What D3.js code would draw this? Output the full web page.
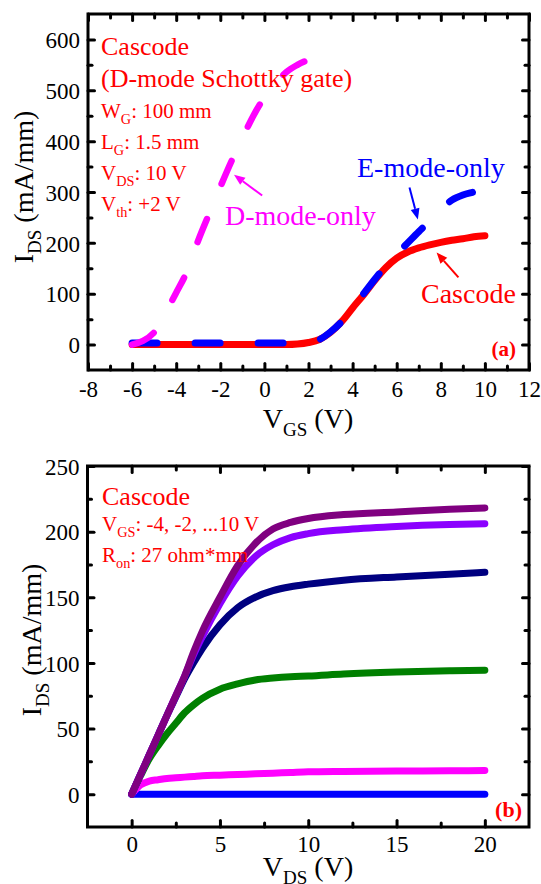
<!DOCTYPE html>
<html>
<head>
<meta charset="utf-8">
<script src="https://cdn.jsdelivr.net/npm/d3@7"></script>
<style>
  body { margin: 0; background: #fff; }
  svg { display: block; }
  svg text { font-family: Liberation Serif; }
</style>
</head>
<body>
<svg width="541" height="884"></svg>
<script>
// panel (a): transfer curves, VDS = 10 V
const vgsCascode = [-6, -4, -2, 0, 1, 1.5, 2, 2.5, 3, 3.5, 4, 4.5, 5, 5.5, 6, 6.5, 7, 7.5, 8, 8.5, 9, 9.5, 10];
const idsCascode = [0, 0, 0, 0, 0, 1, 4, 10, 24, 45, 72, 98, 126, 151, 170, 182, 190, 196, 201, 205, 208, 212, 214];
const vgsEmode = [-6, -4, -2, 0, 1, 2, 2.5, 3, 3.5, 4, 4.5, 5, 5.5, 6, 6.5, 7, 7.5, 8, 8.5, 9, 9.5, 10];
const idsEmode = [3, 3, 3, 3, 3, 4, 10, 25, 45, 72, 100, 128, 155, 178, 200, 222, 243, 266, 284, 294, 300, 306];
const vgsDmode = [-6, -5, -4.5, -4, -3.5, -3, -2.5, -2, -1.5, -1, -0.5, 0, 0.5, 1, 1.5, 2];
const idsDmode = [0, 24, 62, 102, 145, 205, 258, 310, 360, 406, 450, 486, 513, 536, 550, 560];

// panel (b): output curves, VGS = -4 ... 10 V
const vdsOut = [0, 0.5, 1, 1.5, 2, 2.5, 3, 3.5, 4, 5, 6, 7, 8, 9, 10, 12, 15, 18, 20];
const idsVgsLow = [0, 0, 0, 0, 0, 0, 0, 0, 0, 0, 0, 0, 0, 0, 0, 0, 0, 0, 0];
const idsVgs2 = [0, 7, 10, 11, 12, 12.5, 13, 13.5, 14, 14.5, 15, 15.5, 16, 16.5, 17, 17.3, 17.6, 17.8, 18];
const idsVgs4 = [0, 14, 27, 37, 46, 54, 62, 68, 73, 80, 84, 87, 88.5, 89.5, 90, 91.5, 93, 94, 94.5];
const idsVgs6 = [0, 15, 30, 45, 60, 74, 88, 100, 111, 129, 142, 150, 155, 158, 160, 163, 165.5, 167.5, 169];
const idsVgs8 = [0, 15, 30, 45, 60, 75, 90, 106, 120, 145, 166, 181, 190, 195.5, 198.5, 201.5, 204, 205.5, 206];
const idsVgs10 = [0, 15, 30, 45, 60, 75, 90, 108, 124, 150, 174, 191, 202, 207, 210, 213, 215, 217, 218];

const FONT = "Liberation Serif";
const svg = d3.select("svg").attr("font-family", FONT);

function pts(xs, ys) { return xs.map((v, i) => [v, ys[i]]); }

// parts: plain strings or {sub: "..."} for subscripts
function addText(g, x, y, parts, size, color, opts = {}) {
  const t = g.append("text")
    .style("font-family", FONT)
    .attr("font-size", size).attr("fill", color)
    .attr("font-weight", opts.bold ? "bold" : null)
    .attr("text-anchor", opts.anchor || "start");
  if (opts.rotate) t.attr("transform", `translate(${x},${y}) rotate(-90)`);
  else t.attr("x", x).attr("y", y);
  const shift = size * 0.28;
  let pending = 0;
  parts.forEach(p => {
    const sp = t.append("tspan");
    if (typeof p === "string") {
      sp.text(p);
      if (pending) sp.attr("dy", pending);
      pending = 0;
    } else {
      sp.attr("dy", shift + pending).attr("font-size", size * 0.68).text(p.sub);
      pending = -shift;
    }
  });
  return t;
}

function frameAxes(g, x, y, xMajor, xMinor, yMajor, yMinor, labelOff) {
  const [x0, x1] = x.range(), [y0, y1] = y.range();
  const fmt = d => String(d);
  const sides = [
    { ax: d3.axisBottom, s: x, at: `translate(0,${y0})`, attr: ["y1", "y2"], dir: -1, lab: true },
    { ax: d3.axisTop, s: x, at: `translate(0,${y1})`, attr: ["y1", "y2"], dir: 1 },
    { ax: d3.axisLeft, s: y, at: `translate(${x0},0)`, attr: ["x1", "x2"], dir: 1, lab: true },
    { ax: d3.axisRight, s: y, at: `translate(${x1},0)`, attr: ["x1", "x2"], dir: -1 }
  ];
  sides.forEach((sd, k) => {
    const isX = k < 2;
    [[isX ? xMajor : yMajor, 6.5], [isX ? xMinor : yMinor, 4]].forEach(([vals, len], m) => {
      const showLab = sd.lab && m === 0;
      const a = g.append("g").attr("transform", sd.at)
        .call(sd.ax(sd.s).tickValues(vals).tickSize(0).tickFormat(fmt));
      a.select(".domain").remove();
      a.selectAll(".tick line").attr(sd.attr[0], 0).attr(sd.attr[1], sd.dir * len)
        .attr("stroke", "#000").attr("stroke-width", 3).attr("stroke-linecap", "round");
      a.attr("font-family", FONT).attr("font-size", 23);
      a.selectAll(".tick text").style("font-family", FONT);
      if (!showLab) a.selectAll(".tick text").remove();
      else if (isX) a.selectAll(".tick text").attr("y", labelOff).attr("dy", null).attr("fill", "#000");
      else a.selectAll(".tick text").attr("x", -8).attr("dy", "0.36em").attr("fill", "#000");
    });
  });
  g.append("rect").attr("x", x0).attr("y", y1).attr("width", x1 - x0).attr("height", y0 - y1)
    .attr("fill", "none").attr("stroke", "#000").attr("stroke-width", 3);
}

function arrow(g, x, y, from, to, color) {
  const [ax, ay] = [x(from[0]), y(from[1])], [bx, by] = [x(to[0]), y(to[1])];
  const ang = Math.atan2(by - ay, bx - ax), L = 11, W = 4.5;
  const bx2 = bx - L * Math.cos(ang), by2 = by - L * Math.sin(ang);
  g.append("line").attr("x1", ax).attr("y1", ay).attr("x2", bx2).attr("y2", by2)
    .attr("stroke", color).attr("stroke-width", 2);
  const px = -Math.sin(ang) * W, py = Math.cos(ang) * W;
  g.append("path").attr("fill", color)
    .attr("d", `M${bx},${by}L${bx2 + px},${by2 + py}L${bx2 - px},${by2 - py}Z`);
}

// ---------- panel (a)
const xA = d3.scaleLinear().domain([-8, 12]).range([88, 529]);
const yA = d3.scaleLinear().domain([-50, 650]).range([370, 14]);
const gA = svg.append("g");
const lineA = d3.line().x(d => xA(d[0])).y(d => yA(d[1])).curve(d3.curveMonotoneX);

gA.append("path").attr("d", lineA(pts(vgsCascode, idsCascode)))
  .attr("fill", "none").attr("stroke", "#ff0000").attr("stroke-width", 7).attr("stroke-linecap", "round");
gA.append("path").attr("d", lineA(pts(vgsEmode, idsEmode)))
  .attr("fill", "none").attr("stroke", "#0000ff").attr("stroke-width", 7)
  .attr("stroke-linecap", "round").attr("stroke-dasharray", "25,38");
gA.append("path").attr("d", lineA(pts(vgsDmode, idsDmode)))
  .attr("fill", "none").attr("stroke", "#ff00ff").attr("stroke-width", 6.5)
  .attr("stroke-linecap", "round").attr("stroke-dasharray", "25,38");

frameAxes(gA, xA, yA, d3.range(-8, 13, 2), d3.range(-7, 12, 2),
  d3.range(0, 601, 100), d3.range(50, 650, 100), 27);

addText(gA, 101, 55, ["Cascode"], 26, "#ff0000");
addText(gA, 101, 87, ["(D-mode Schottky gate)"], 26, "#ff0000");
addText(gA, 101, 118, ["W", { sub: "G" }, ": 100 mm"], 21, "#ff0000");
addText(gA, 101, 149, ["L", { sub: "G" }, ": 1.5 mm"], 21, "#ff0000");
addText(gA, 101, 180, ["V", { sub: "DS" }, ": 10 V"], 21, "#ff0000");
addText(gA, 101, 211, ["V", { sub: "th" }, ": +2 V"], 21, "#ff0000");
addText(gA, 225, 225, ["D-mode-only"], 28, "#ff00ff");
addText(gA, 357, 177, ["E-mode-only"], 28, "#0000ff");
addText(gA, 421, 303, ["Cascode"], 28, "#ff0000");
addText(gA, 516, 356, ["(a)"], 21, "#ff0000", { bold: true, anchor: "end" });

arrow(gA, xA, yA, [-0.1, 293], [-1.38, 334], "#ff00ff");
arrow(gA, xA, yA, [6.58, 309], [6.96, 246], "#0000ff");
arrow(gA, xA, yA, [8.8, 132], [7.81, 181], "#ff0000");

addText(gA, 308, 428, ["V", { sub: "GS" }, " (V)"], 28, "#000", { anchor: "middle" });
addText(gA, 33, 187, ["I", { sub: "DS" }, " (mA/mm)"], 28, "#000", { anchor: "middle", rotate: true });

// ---------- panel (b)
const xB = d3.scaleLinear().domain([-2.5, 22.5]).range([87.5, 529]);
const yB = d3.scaleLinear().domain([-25, 250]).range([827, 466]);
const gB = svg.append("g");
const lineB = d3.line().x(d => xB(d[0])).y(d => yB(d[1])).curve(d3.curveMonotoneX);

const outCurves = [
  [idsVgsLow, "#0000ff"], [idsVgs2, "#ff00ff"], [idsVgs4, "#008000"],
  [idsVgs6, "#000080"], [idsVgs8, "#8b00ff"], [idsVgs10, "#800080"]
];
outCurves.forEach(([ids, c]) => {
  gB.append("path").attr("d", lineB(pts(vdsOut, ids)))
    .attr("fill", "none").attr("stroke", c).attr("stroke-width", 7).attr("stroke-linecap", "round");
});

frameAxes(gB, xB, yB, d3.range(0, 21, 5), [2.5, 7.5, 12.5, 17.5],
  d3.range(0, 251, 50), d3.range(25, 250, 50), 25);

addText(gB, 102, 505, ["Cascode"], 26, "#ff0000");
addText(gB, 102, 531, ["V", { sub: "GS" }, ": -4, -2, ...10 V"], 21, "#ff0000");
addText(gB, 102, 562, ["R", { sub: "on" }, ": 27 ohm*mm"], 21, "#ff0000");
addText(gB, 522, 817, ["(b)"], 22, "#ff0000", { bold: true, anchor: "end" });

addText(gB, 308, 876, ["V", { sub: "DS" }, " (V)"], 28, "#000", { anchor: "middle" });
addText(gB, 41, 640, ["I", { sub: "DS" }, " (mA/mm)"], 28, "#000", { anchor: "middle", rotate: true });
</script>
</body>
</html>
